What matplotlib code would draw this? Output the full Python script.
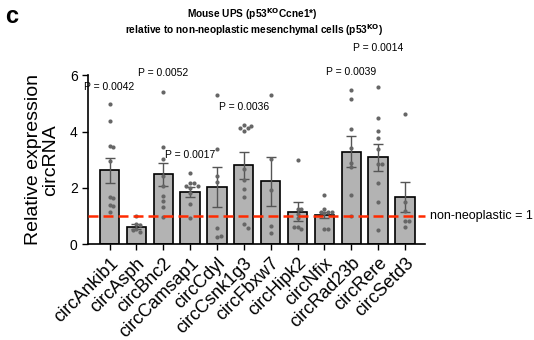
import numpy as np
import matplotlib
matplotlib.use('Agg')
from matplotlib import pyplot as plt

plt.rcParams['font.family'] = ['Liberation Sans', 'DejaVu Sans']

# datos
genes = ['circAnkib1', 'circAsph', 'circBnc2', 'circCamsap1', 'circCdyl', 'circCsnk1g3',
         'circFbxw7', 'circHipk2', 'circNfix', 'circRad23b', 'circRere', 'circSetd3']
means = [2.62, 0.63, 2.48, 1.84, 2.04, 2.80, 2.23, 1.16, 1.03, 3.28, 3.08, 1.68]
sem = [0.45, 0.09, 0.42, 0.18, 0.70, 0.48, 0.88, 0.33, 0.10, 0.55, 0.48, 0.52]
points = [
    [4.96, 4.37, 3.48, 3.44, 2.96, 1.69, 1.63, 1.39, 1.37, 1.16],
    [1.00, 0.72, 0.68, 0.55, 0.45, 0.50],
    [5.40, 3.44, 3.04, 2.42, 2.07, 1.71, 1.54, 1.33, 0.98],
    [2.52, 2.19, 2.19, 2.07, 2.07, 1.98, 1.81, 1.42, 0.92],
    [5.30, 3.38, 2.42, 2.20, 0.57, 0.25, 0.31],
    [4.23, 4.13, 4.03, 4.13, 4.20, 2.67, 2.28, 1.95, 1.69, 0.71, 0.59],
    [5.30, 3.04, 1.93, 0.66, 0.41],
    [2.99, 1.25, 1.24, 1.07, 0.92, 0.63, 0.53, 0.60],
    [1.76, 1.25, 1.16, 1.16, 1.13, 1.10, 0.56, 0.56],
    [5.47, 5.14, 4.09, 3.42, 2.90, 2.73, 1.74, 1.02],
    [5.59, 4.49, 4.03, 3.77, 3.38, 2.84, 2.84, 2.16, 1.50, 0.51],
    [4.61, 1.51, 1.18, 0.84, 0.84, 0.60],
]
p_bar = [0, 2, 3, 5, 9, 10]
p_text = ['P = 0.0042', 'P = 0.0052', 'P = 0.0017', 'P = 0.0036', 'P = 0.0039', 'P = 0.0014']
p_y = [5.58, 6.07, 3.17, 4.87, 6.11, 6.96]


def swarm(vals, dx=0.14, dy=0.14):
    # posiciones x sin solapamiento (tipo beeswarm)
    placed = []
    offs = []
    for v in vals:
        k = 0
        while True:
            cands = [0.0] if k == 0 else [k * dx, -k * dx]
            ok = None
            for c in cands:
                if all(abs(c - px) >= dx * 0.99 or abs(v - py) >= dy for px, py in placed):
                    ok = c
                    break
            if ok is not None:
                break
            k += 1
        placed.append((ok, v))
        offs.append(ok)
    return offs


fig = plt.figure(figsize=(5.34, 3.40), dpi=100)
ax = fig.add_axes([0.165, 0.2815, 0.631, 0.4975])

x = np.arange(len(genes))
ax.bar(x, means, width=0.72, color='#b3b3b3', edgecolor='black', linewidth=1.2, zorder=1)
ax.errorbar(x, means, yerr=sem, fmt='none', ecolor='#555555', elinewidth=1,
            capsize=3.5, capthick=1, zorder=3)
for i, vals in enumerate(points):
    off = swarm(vals)
    ax.scatter(x[i] + np.array(off), vals, s=9, color='#666666', zorder=4, linewidths=0)

ax.axhline(1, color='#ff2a00', linestyle=(0, (4, 2)), linewidth=1.8, zorder=5, clip_on=False)
ax.text(11.95, 1, 'non-neoplastic = 1', fontsize=9, va='center', ha='left')

for b, t, yy in zip(p_bar, p_text, p_y):
    ax.text(x[b], yy, t, fontsize=7.5, ha='center', va='center', clip_on=False)

ax.set_xlim(-0.8, 11.75)
ax.set_ylim(0, 6)
ax.set_yticks([0, 2, 4, 6])
ax.set_xticks(x)
ax.set_xticklabels(genes, rotation=45, ha='right', rotation_mode='anchor', fontsize=13)
ax.tick_params(axis='y', labelsize=10, length=4, width=1)
ax.tick_params(axis='x', length=4, width=1)
ax.spines['top'].set_visible(False)
ax.spines['right'].set_visible(False)
ax.spines['left'].set_linewidth(1.2)
ax.spines['bottom'].set_linewidth(1.2)
ax.set_ylabel('Relative expression\ncircRNA', fontsize=14, labelpad=8, linespacing=1.0)

fig.text(0.473, 0.958, r'Mouse UPS (p53$^{\mathbf{KO}}$Ccne1*)', fontsize=7.3, fontweight='bold', ha='center', va='center')
fig.text(0.475, 0.91, r'relative to non-neoplastic mesenchymal cells (p53$^{\mathbf{KO}}$)', fontsize=7.3,
         fontweight='bold', ha='center', va='center')
fig.text(0.01, 0.952, 'c', fontsize=17, fontweight='heavy', ha='left', va='center')

fig.savefig('out.png', dpi=100)
